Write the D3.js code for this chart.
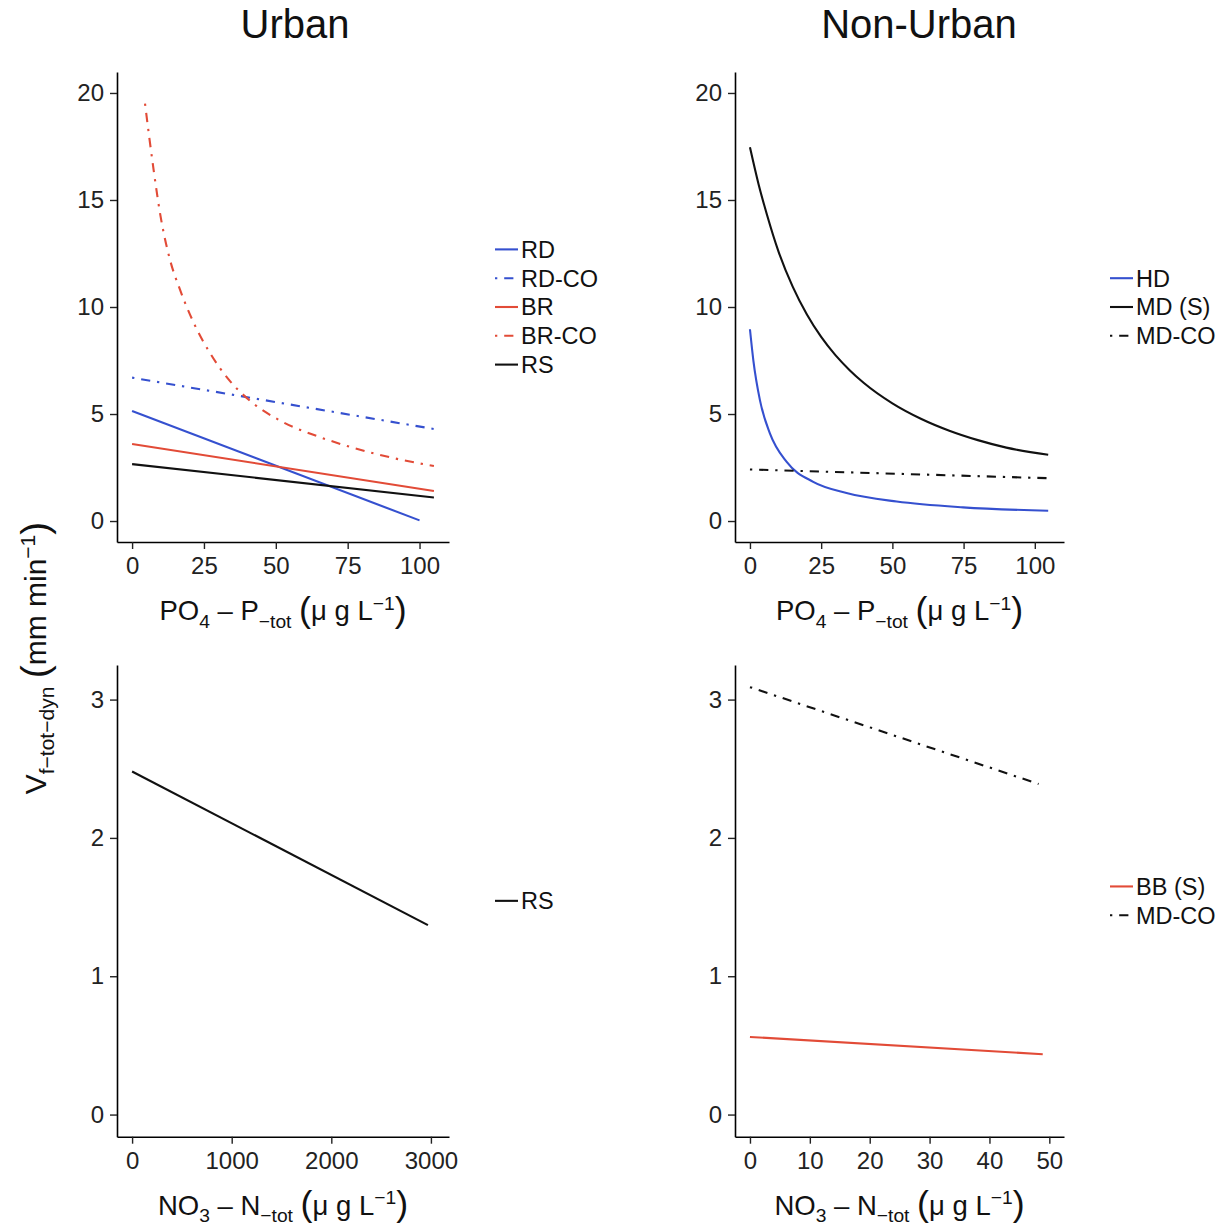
<!DOCTYPE html>
<html>
<head>
<meta charset="utf-8">
<script src="https://cdn.jsdelivr.net/npm/d3@7"></script>
<style>
  html, body { margin: 0; padding: 0; background: #fff; }
  svg { display: block; font-family: "Liberation Sans", Arial, Helvetica, sans-serif; }
</style>
</head>
<body>
<svg id="chart" width="1229" height="1228"></svg>
<script>
// ---- data ----------------------------------------------------------------
// phosphate panels (x: PO4-P tot, µg/L ; y: Vf-tot-dyn, mm/min)
const rdPts    = [[0, 5.14], [100, 0.03]];
const rdCoPts  = [[0, 6.7], [105, 4.3]];
const brPts    = [[0, 3.6], [105, 1.4]];
const brCoPts  = [[4.5, 19.5], [6, 17.9], [7.5, 16.4], [9.7, 14.4], [13.2, 12.2], [16.7, 10.8],
                  [21.3, 9.3], [27.1, 7.85], [34, 6.55], [42.1, 5.5], [51.4, 4.7], [65.3, 3.92],
                  [73, 3.58], [90.6, 2.95], [105, 2.57]];
const rsPoPts  = [[0, 2.66], [105, 1.1]];

const hdPts    = [[0, 8.96], [1.2, 7.5], [3.5, 5.65], [7, 4.1], [12.9, 2.76], [22.2, 1.83],
                  [33.9, 1.31], [51.5, 0.91], [74.8, 0.64], [104.7, 0.48]];
const mdSPts   = [[0, 17.46], [3, 15.75], [6, 14.3], [10, 12.6], [15, 10.95], [20, 9.65],
                  [25, 8.6], [30, 7.75], [35, 7.05], [40, 6.45], [50, 5.5], [60, 4.78],
                  [70, 4.22], [80, 3.78], [90, 3.43], [104.7, 3.1]];
const mdCoPoPts = [[0, 2.41], [104.7, 2.0]];

// nitrate panels (x: NO3-N tot, µg/L)
const rsNoPts   = [[0, 2.48], [2970, 1.37]];
const bbSPts    = [[0, 0.561], [48.9, 0.436]];
const mdCoNoPts = [[0, 3.09], [48.2, 2.39]];

// axis domains and ticks
const poDomain      = [-5.25, 110.25];
const vTopDomain    = [-0.98, 20.98];
const noUrbDomain   = [-151.5, 3181.5];
const noRurDomain   = [-2.5, 52.45];
const vBotDomain    = [-0.16, 3.25];
const poTicks       = [0, 25, 50, 75, 100];
const vTopTicks     = [0, 5, 10, 15, 20];
const noUrbTicks    = [0, 1000, 2000, 3000];
const noRurTicks    = [0, 10, 20, 30, 40, 50];
const vBotTicks     = [0, 1, 2, 3];

const panelTitles = ["Urban", "Non-Urban"];

// ---- styles ----------------------------------------------------------------
const BLUE = "#3550cf", RED = "#e24b37", BLACK = "#111";
const DOTDASH = "2.3,6.9,9.2,6.9";
const TICK_FS = 24, LEGEND_FS = 23.5;

const svg = d3.select("#chart");
svg.append("rect").attr("width", 1229).attr("height", 1228).attr("fill", "#fff");

// rich text helper: segments of [text, kind] where kind is sub / sup / big
function richText(sel, segs, fs) {
  const t = sel.append("text").attr("font-size", fs).attr("fill", "#111");
  let off = 0;
  segs.forEach(([s, kind]) => {
    let target = 0, size = fs;
    if (kind === "sub") { target = 0.28 * fs; size = 0.7 * fs; }
    else if (kind === "sup") { target = -0.38 * fs; size = 0.7 * fs; }
    else if (kind === "big") { target = 0.06 * fs; size = 1.3 * fs; }
    t.append("tspan").attr("dy", target - off).attr("font-size", size)
      .style("white-space", "pre").text(s);
    off = target;
  });
  return t;
}

function panel(cfg) {
  const x = d3.scaleLinear().domain(cfg.xDomain).range(cfg.xRange);
  const y = d3.scaleLinear().domain(cfg.yDomain).range(cfg.yRange);
  const g = svg.append("g");

  const xa = g.append("g").attr("transform", `translate(0,${cfg.yRange[0]})`)
    .call(d3.axisBottom(x).tickValues(cfg.xTicks).tickSize(7).tickSizeOuter(0).tickPadding(8)
      .tickFormat(d3.format("d")));
  const ya = g.append("g").attr("transform", `translate(${cfg.xRange[0]},0)`)
    .call(d3.axisLeft(y).tickValues(cfg.yTicks).tickSize(7).tickSizeOuter(0).tickPadding(6)
      .tickFormat(d3.format("d")));
  [xa, ya].forEach(a => {
    a.attr("font-family", null).attr("font-size", null);
    a.select(".domain").attr("stroke", "#000").attr("stroke-width", 1.6);
    a.selectAll(".tick line").attr("stroke", "#222").attr("stroke-width", 1.4);
    a.selectAll(".tick text").attr("fill", "#222").attr("font-size", TICK_FS);
  });

  const line = d3.line().x(d => x(d[0])).y(d => y(d[1])).curve(d3.curveMonotoneX);
  cfg.series.forEach(s => {
    g.append("path").datum(s.pts).attr("d", line)
      .attr("fill", "none").attr("stroke", s.color).attr("stroke-width", 2.1)
      .attr("stroke-dasharray", s.dash || null).attr("stroke-linecap", "butt");
  });

  // x-axis title
  const cx = (cfg.xRange[0] + cfg.xRange[1]) / 2;
  const xt = richText(g, cfg.xTitle, 27.5);
  xt.attr("x", cx).attr("y", cfg.yRange[0] + 78).attr("text-anchor", "middle");
  xt.select("tspan").attr("x", cx);

  // legend
  const n = cfg.series.length;
  const yc = (cfg.yRange[0] + cfg.yRange[1]) / 2;
  const step = 28.8;
  cfg.series.forEach((s, i) => {
    const yy = yc + (i - (n - 1) / 2) * step;
    g.append("line").attr("x1", cfg.legendX).attr("x2", cfg.legendX + 23)
      .attr("y1", yy).attr("y2", yy).attr("stroke", s.color).attr("stroke-width", 2.1)
      .attr("stroke-dasharray", s.dash || null);
    g.append("text").attr("x", cfg.legendX + 26).attr("y", yy).attr("dy", "0.36em")
      .attr("font-size", LEGEND_FS).attr("fill", "#111").text(s.name);
  });
}

const poTitle = [["PO"], ["4", "sub"], [" \u2013 P"], ["\u2212tot", "sub"], [" "], ["(", "big"],
                 ["\u03bc g L"], ["\u22121", "sup"], [")", "big"]];
const noTitle = [["NO"], ["3", "sub"], [" \u2013 N"], ["\u2212tot", "sub"], [" "], ["(", "big"],
                 ["\u03bc g L"], ["\u22121", "sup"], [")", "big"]];

panel({
  xDomain: poDomain, yDomain: vTopDomain, xRange: [117, 449], yRange: [542, 72],
  xTicks: poTicks, yTicks: vTopTicks, xTitle: poTitle, legendX: 495,
  series: [
    { name: "RD", pts: rdPts, color: BLUE },
    { name: "RD-CO", pts: rdCoPts, color: BLUE, dash: DOTDASH },
    { name: "BR", pts: brPts, color: RED },
    { name: "BR-CO", pts: brCoPts, color: RED, dash: DOTDASH },
    { name: "RS", pts: rsPoPts, color: BLACK }
  ]
});

panel({
  xDomain: poDomain, yDomain: vTopDomain, xRange: [735, 1064], yRange: [542, 72],
  xTicks: poTicks, yTicks: vTopTicks, xTitle: poTitle, legendX: 1110,
  series: [
    { name: "HD", pts: hdPts, color: BLUE },
    { name: "MD (S)", pts: mdSPts, color: BLACK },
    { name: "MD-CO", pts: mdCoPoPts, color: BLACK, dash: DOTDASH }
  ]
});

panel({
  xDomain: noUrbDomain, yDomain: vBotDomain, xRange: [117, 449], yRange: [1136.7, 665],
  xTicks: noUrbTicks, yTicks: vBotTicks, xTitle: noTitle, legendX: 495,
  series: [
    { name: "RS", pts: rsNoPts, color: BLACK }
  ]
});

panel({
  xDomain: noRurDomain, yDomain: vBotDomain, xRange: [735, 1064], yRange: [1136.7, 665],
  xTicks: noRurTicks, yTicks: vBotTicks, xTitle: noTitle, legendX: 1110,
  series: [
    { name: "BB (S)", pts: bbSPts, color: RED },
    { name: "MD-CO", pts: mdCoNoPts, color: BLACK, dash: DOTDASH }
  ]
});

// column titles
svg.append("text").attr("x", 295).attr("y", 38).attr("text-anchor", "middle")
  .attr("font-size", 40).attr("fill", "#111").text(panelTitles[0]);
svg.append("text").attr("x", 919).attr("y", 38).attr("text-anchor", "middle")
  .attr("font-size", 40).attr("fill", "#111").text(panelTitles[1]);

// shared y-axis title
const yg = svg.append("g").attr("transform", "translate(46,658) rotate(-90)");
richText(yg, [["V"], ["f\u2212tot\u2212dyn", "sub"], [" "], ["(", "big"], ["mm min"],
              ["\u22121", "sup"], [")", "big"]], 30)
  .attr("text-anchor", "middle");
</script>
</body>
</html>
